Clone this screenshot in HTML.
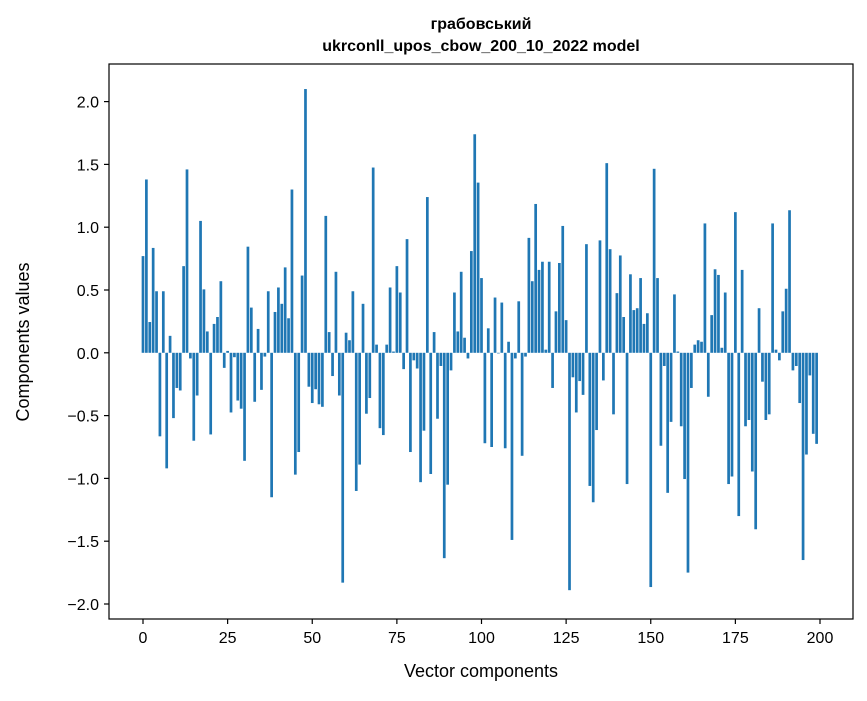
<!DOCTYPE html>
<html><head><meta charset="utf-8"><style>
body{margin:0;background:#fff;}
svg text{font-family:"Liberation Sans","DejaVu Sans",sans-serif;fill:#000;}
</style></head><body>
<svg id="chart" width="867" height="696" xmlns="http://www.w3.org/2000/svg">
<rect width="867" height="696" fill="#fff"/>
<text x="481" y="29" text-anchor="middle" font-size="16" font-weight="bold">грабовський</text>
<text x="481" y="51" text-anchor="middle" font-size="16" font-weight="bold">ukrconll_upos_cbow_200_10_2022 model</text>
<g id="bars"></g>
<g id="axes"></g>
<rect x="109" y="64" width="744" height="555" fill="none" stroke="#000" stroke-width="1.2"/>
<text x="481" y="677" text-anchor="middle" font-size="18">Vector components</text>
<text transform="translate(29,342) rotate(-90)" text-anchor="middle" font-size="18">Components values</text>
</svg>
<script>
const values = [0.77,1.38,0.245,0.835,0.49,-0.665,0.49,-0.92,0.135,-0.52,
-0.28,-0.30,0.69,1.46,-0.045,-0.70,-0.34,1.05,0.505,0.17,
-0.65,0.23,0.285,0.57,-0.12,0.015,-0.475,-0.035,-0.38,-0.445,
-0.86,0.845,0.36,-0.39,0.19,-0.295,-0.03,0.49,-1.15,0.325,
0.52,0.39,0.68,0.275,1.30,-0.97,-0.79,0.615,2.10,-0.27,
-0.40,-0.29,-0.41,-0.43,1.09,0.165,-0.185,0.645,-0.34,-1.83,
0.16,0.10,0.49,-1.10,-0.89,0.39,-0.485,-0.36,1.475,0.065,
-0.60,-0.655,0.065,0.52,0.01,0.69,0.48,-0.13,0.905,-0.79,
-0.06,-0.125,-1.03,-0.62,1.24,-0.965,0.165,-0.525,-0.105,-1.635,
-1.05,-0.14,0.48,0.17,0.645,0.12,-0.045,0.81,1.74,1.355,
0.595,-0.72,0.195,-0.75,0.44,-0.005,0.40,-0.76,0.088,-1.49,
-0.045,0.41,-0.82,-0.03,0.915,0.57,1.185,0.66,0.725,0.025,
0.725,-0.28,0.33,0.715,1.01,0.26,-1.89,-0.195,-0.475,-0.225,
-0.335,0.865,-1.06,-1.19,-0.615,0.895,-0.22,1.51,0.825,-0.49,
0.475,0.775,0.285,-1.045,0.625,0.34,0.355,0.595,0.23,0.315,
-1.865,1.465,0.595,-0.74,-0.105,-1.115,-0.55,0.465,0.01,-0.585,
-1.005,-1.75,-0.28,0.065,0.10,0.088,1.03,-0.35,0.30,0.665,
0.62,0.04,0.48,-1.045,-0.985,1.12,-1.30,0.66,-0.585,-0.535,
-0.945,-1.405,0.355,-0.23,-0.535,-0.49,1.03,0.025,-0.06,0.33,
0.51,1.135,-0.14,-0.105,-0.40,-1.65,-0.81,-0.18,-0.645,-0.725];
const xTicks = [0,25,50,75,100,125,150,175,200];
const yTicks = [-2.0,-1.5,-1.0,-0.5,0.0,0.5,1.0,1.5,2.0];

const NS = "http://www.w3.org/2000/svg";
function xScale(i){ return 143 + i * (820 - 143) / 200; }
function yScale(v){ return 352.8 - v * 125.6; }
const bw = 0.8 * (820 - 143) / 200;
const barsG = document.getElementById('bars');
values.forEach((v, i) => {
  const r = document.createElementNS(NS, 'rect');
  
  
  const y0 = yScale(0), y1 = yScale(v);
  r.setAttribute('x', xScale(i) - bw / 2);
  r.setAttribute('y', Math.min(y0, y1));
  r.setAttribute('width', bw);
  r.setAttribute('height', Math.abs(y1 - y0));
  r.setAttribute('fill', '#1f77b4');
  barsG.appendChild(r);
});
const axesG = document.getElementById('axes');
xTicks.forEach(t => {
  const x = xScale(t);
  const l = document.createElementNS(NS, 'line');
  
  
  l.setAttribute('x1', x); l.setAttribute('x2', x);
  l.setAttribute('y1', 619); l.setAttribute('y2', 624);
  l.setAttribute('stroke', '#000'); l.setAttribute('stroke-width', '1.2');
  axesG.appendChild(l);
  const tx = document.createElementNS(NS, 'text');
  
  
  tx.setAttribute('x', x); tx.setAttribute('y', 643);
  tx.setAttribute('text-anchor', 'middle'); tx.setAttribute('font-size', '16');
  tx.textContent = String(t);
  axesG.appendChild(tx);
});
yTicks.forEach(t => {
  const y = yScale(t);
  const l = document.createElementNS(NS, 'line');
  
  
  l.setAttribute('x1', 104); l.setAttribute('x2', 109);
  l.setAttribute('y1', y); l.setAttribute('y2', y);
  l.setAttribute('stroke', '#000'); l.setAttribute('stroke-width', '1.2');
  axesG.appendChild(l);
  const tx = document.createElementNS(NS, 'text');
  
  
  tx.setAttribute('x', 99); tx.setAttribute('y', y + 6);
  tx.setAttribute('text-anchor', 'end'); tx.setAttribute('font-size', '16');
  tx.textContent = (t < 0 ? '\u2212' : '') + Math.abs(t).toFixed(1);
  axesG.appendChild(tx);
});
</script>
</body></html>
